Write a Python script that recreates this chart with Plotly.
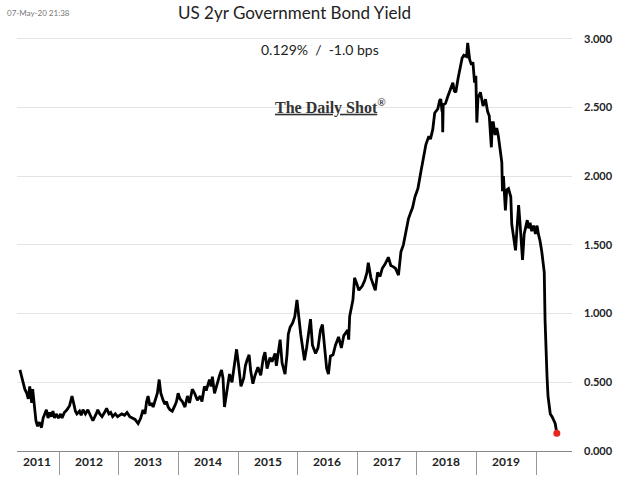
import plotly.graph_objects as go

# readings, per year: (dates, yields)
dates = [
    # 2011
    "2011-05-06", "2011-05-14", "2011-05-24", "2011-06-05", "2011-06-17", "2011-06-26",
    "2011-07-05", "2011-07-11", "2011-07-17", "2011-07-23", "2011-07-29", "2011-08-04",
    "2011-08-12", "2011-08-22", "2011-09-02", "2011-09-15", "2011-09-25", "2011-10-05",
    "2011-10-15", "2011-10-25", "2011-11-04", "2011-11-14", "2011-11-24", "2011-12-04",
    "2011-12-14", "2011-12-28",
    # 2012
    "2012-01-10", "2012-01-19", "2012-02-02", "2012-02-18", "2012-03-05", "2012-03-20",
    "2012-03-30", "2012-04-10", "2012-04-19", "2012-05-05", "2012-05-15", "2012-05-26",
    "2012-06-10", "2012-06-25", "2012-07-10", "2012-07-26", "2012-08-15", "2012-08-25",
    "2012-09-06", "2012-09-20", "2012-10-05", "2012-10-18", "2012-11-01", "2012-11-12",
    "2012-11-24", "2012-12-10", "2012-12-24",
    # 2013
    "2013-01-05", "2013-01-19", "2013-02-05", "2013-02-20", "2013-03-09", "2013-03-25",
    "2013-04-10", "2013-04-29", "2013-05-15", "2013-05-29", "2013-06-10", "2013-06-20",
    "2013-06-29", "2013-07-10", "2013-07-20", "2013-07-30", "2013-08-15", "2013-08-25",
    "2013-09-05", "2013-09-15", "2013-09-29", "2013-10-10", "2013-10-20", "2013-10-30",
    "2013-11-10", "2013-11-24", "2013-12-10", "2013-12-20", "2013-12-30",
    # 2014
    "2014-01-10", "2014-01-25", "2014-02-10", "2014-02-25", "2014-03-10", "2014-03-27",
    "2014-04-10", "2014-04-27", "2014-05-15", "2014-05-25", "2014-06-09", "2014-06-20",
    "2014-07-01", "2014-07-10", "2014-07-20", "2014-07-28", "2014-08-10", "2014-08-25",
    "2014-09-10", "2014-09-22", "2014-10-01", "2014-10-10", "2014-10-20", "2014-11-01",
    "2014-11-10", "2014-11-25", "2014-12-10", "2014-12-23",
    # 2015
    "2015-01-05", "2015-01-19", "2015-02-05", "2015-02-15", "2015-02-25", "2015-03-10",
    "2015-03-20", "2015-04-02", "2015-04-15", "2015-05-03", "2015-05-20", "2015-06-05",
    "2015-06-15", "2015-06-28", "2015-07-16", "2015-07-28", "2015-08-16", "2015-08-24",
    "2015-09-16", "2015-09-28", "2015-10-16", "2015-10-28", "2015-11-05", "2015-11-16",
    "2015-12-01", "2015-12-15", "2015-12-28",
    # 2016
    "2016-01-10", "2016-01-20", "2016-02-06", "2016-02-12", "2016-02-25", "2016-03-10",
    "2016-03-20", "2016-04-01", "2016-04-20", "2016-05-05", "2016-05-20", "2016-06-01",
    "2016-06-15", "2016-06-27", "2016-07-08", "2016-07-20", "2016-08-05", "2016-08-20",
    "2016-09-08", "2016-09-25", "2016-10-10", "2016-10-25", "2016-11-03", "2016-11-09",
    "2016-11-15", "2016-12-05", "2016-12-15", "2016-12-28",
    # 2017
    "2017-01-10", "2017-01-31", "2017-02-15", "2017-03-01", "2017-03-09", "2017-03-25",
    "2017-04-10", "2017-04-21", "2017-05-05", "2017-05-20", "2017-06-03", "2017-06-20",
    "2017-07-10", "2017-07-25", "2017-08-10", "2017-08-22", "2017-09-10", "2017-09-25",
    "2017-10-10", "2017-10-23", "2017-11-10", "2017-11-25", "2017-12-05", "2017-12-20",
    # 2018
    "2018-01-07", "2018-01-25", "2018-02-12", "2018-02-25", "2018-03-15", "2018-03-25",
    "2018-04-08", "2018-04-20", "2018-05-09", "2018-05-20", "2018-05-27", "2018-06-04",
    "2018-06-06", "2018-06-08", "2018-06-11", "2018-06-25", "2018-07-09", "2018-07-20",
    "2018-08-09", "2018-08-18", "2018-08-27", "2018-09-10", "2018-09-27", "2018-10-05",
    "2018-10-15", "2018-11-01", "2018-11-08", "2018-11-20", "2018-12-01", "2018-12-10",
    "2018-12-20", "2018-12-28",
    # 2019
    "2019-01-03", "2019-01-10", "2019-01-25", "2019-02-10", "2019-02-25", "2019-03-10",
    "2019-03-20", "2019-04-02", "2019-04-08", "2019-04-14", "2019-04-25", "2019-05-05",
    "2019-05-15", "2019-05-28", "2019-06-05", "2019-06-09", "2019-06-15", "2019-06-27",
    "2019-07-05", "2019-07-16", "2019-07-30", "2019-08-05", "2019-08-16", "2019-08-28",
    "2019-09-05", "2019-09-16", "2019-09-25", "2019-10-03", "2019-10-10", "2019-10-20",
    "2019-10-29", "2019-11-08", "2019-11-16", "2019-11-25", "2019-12-05", "2019-12-17",
    "2019-12-28",
    # 2020
    "2020-01-07", "2020-01-15", "2020-01-25", "2020-02-05", "2020-02-13", "2020-02-20",
    "2020-02-25", "2020-03-02", "2020-03-08", "2020-03-14", "2020-03-20", "2020-03-28",
    "2020-04-08", "2020-04-18", "2020-04-27", "2020-05-07",
]
yields = [
    # 2011
    0.59, 0.55, 0.52, 0.45, 0.42, 0.38,
    0.47, 0.40, 0.35, 0.45, 0.38, 0.27,
    0.22, 0.18, 0.21, 0.17, 0.24, 0.27,
    0.30, 0.24, 0.28, 0.25, 0.29, 0.24,
    0.27, 0.24,
    # 2012
    0.27, 0.24, 0.28, 0.30, 0.33, 0.40,
    0.34, 0.29, 0.27, 0.29, 0.26, 0.30,
    0.27, 0.30, 0.26, 0.22, 0.27, 0.30,
    0.27, 0.25, 0.28, 0.31, 0.27, 0.28,
    0.25, 0.27, 0.25,
    # 2013
    0.26, 0.27, 0.26, 0.28, 0.25, 0.24,
    0.23, 0.20, 0.24, 0.30, 0.27, 0.36,
    0.40, 0.33, 0.35, 0.32, 0.38, 0.42,
    0.52, 0.42, 0.37, 0.34, 0.36, 0.32,
    0.30, 0.29, 0.33, 0.36, 0.42,
    # 2014
    0.38, 0.36, 0.32, 0.40, 0.35, 0.45,
    0.42, 0.37, 0.40, 0.36, 0.47, 0.44,
    0.48, 0.52, 0.47, 0.54, 0.42, 0.49,
    0.55, 0.59, 0.53, 0.32, 0.40, 0.50,
    0.56, 0.50, 0.63, 0.74,
    # 2015
    0.62, 0.47, 0.53, 0.62, 0.66, 0.70,
    0.58, 0.49, 0.55, 0.61, 0.55, 0.68,
    0.72, 0.60, 0.68, 0.65, 0.71, 0.62,
    0.81, 0.64, 0.56, 0.70, 0.85, 0.90,
    0.93, 0.98, 1.10,
    # 2016
    0.93, 0.85, 0.71, 0.66, 0.75, 0.87,
    0.96, 0.77, 0.71, 0.75, 0.88, 0.92,
    0.72, 0.60, 0.56, 0.69, 0.70, 0.77,
    0.83, 0.75, 0.84, 0.86, 0.88, 0.81,
    0.98, 1.10, 1.26, 1.22,
    # 2017
    1.17, 1.20, 1.24, 1.30, 1.37, 1.26,
    1.21, 1.17, 1.30, 1.27, 1.33, 1.36,
    1.41, 1.35, 1.34, 1.33, 1.28, 1.45,
    1.50, 1.57, 1.69, 1.74, 1.77, 1.85,
    # 2018
    1.91, 2.03, 2.15, 2.23, 2.29, 2.27,
    2.34, 2.46, 2.49, 2.55, 2.56, 2.47,
    2.52, 2.32, 2.52, 2.53, 2.58, 2.62,
    2.68, 2.62, 2.61, 2.71, 2.80, 2.86,
    2.88, 2.87, 2.97, 2.85, 2.81, 2.83,
    2.68, 2.73,
    # 2019
    2.39, 2.57, 2.61, 2.51, 2.56, 2.47,
    2.44, 2.21, 2.39, 2.39, 2.30, 2.35,
    2.29, 2.15, 2.10, 1.89, 2.00, 1.75,
    1.90, 1.91, 1.85, 1.65, 1.57, 1.46,
    1.60, 1.79, 1.65, 1.48, 1.39, 1.58,
    1.62, 1.68, 1.62, 1.66, 1.60, 1.64,
    1.58,
    # 2020
    1.64, 1.58, 1.53, 1.45, 1.36, 1.30,
    0.95, 0.70, 0.54, 0.40, 0.35, 0.27,
    0.25, 0.22, 0.20, 0.129,
]

year_labels = ["2011", "2012", "2013", "2014", "2015", "2016", "2017", "2018", "2019"]
year_label_pos = ["2011-08-20", "2012-07-01", "2013-07-01", "2014-07-01", "2015-07-01",
                  "2016-07-01", "2017-07-01", "2018-07-01", "2019-07-01"]
year_bounds = ["2012-01-01", "2013-01-01", "2014-01-01", "2015-01-01", "2016-01-01",
               "2017-01-01", "2018-01-01", "2019-01-01", "2020-01-01"]
y_ticks = [0, 0.5, 1.0, 1.5, 2.0, 2.5, 3.0]

title_text = "US 2yr Government Bond Yield"
subtitle_text = "0.129%  /  -1.0 bps"
stamp_text = "07-May-20 21:38"
brand_text = "<u>The Daily Shot</u><sup>®</sup>"

FONT = "Lato, 'Open Sans', sans-serif"

# plot area in pixels
PL, PR, PT, PB = 17, 572, 25, 455
PW, PH = PR - PL, PB - PT


def px(x):
    return (x - PL) / PW


def py(y):
    return (PB - y) / PH


fig = go.Figure()
fig.add_trace(go.Scatter(x=dates, y=yields, mode="lines",
                         line=dict(color="black", width=2.8), hoverinfo="skip",
                         showlegend=False))
fig.add_trace(go.Scatter(x=[dates[-1]], y=[yields[-1]], mode="markers",
                         marker=dict(color="#e8281e", size=7), showlegend=False))

fig.update_layout(
    width=630, height=486,
    margin=dict(l=PL, r=630 - PR, t=PT, b=486 - PB),
    paper_bgcolor="white", plot_bgcolor="white",
    font=dict(family=FONT, color="#222"),
    title=dict(text=title_text, x=0.5, xref="paper", xanchor="center",
               y=1 - 13 / 486, yref="container", yanchor="middle",
               font=dict(family=FONT, size=17, color="#222")),
)
fig.update_xaxes(
    type="date", range=["2011-04-18", "2020-08-08"],
    showgrid=False, showline=True, linecolor="#888", linewidth=1,
    tickmode="array", tickvals=year_bounds, showticklabels=False,
    ticks="outside", ticklen=23, tickcolor="#999", tickwidth=1,
    zeroline=False,
)
fig.update_yaxes(
    side="right", range=[0, 3.1],
    tickmode="array", tickvals=y_ticks, tickformat=".3f",
    showgrid=True, gridcolor="#e4e4e4", gridwidth=1,
    ticks="", ticklabelstandoff=11,
    tickfont=dict(family=FONT, size=11, color="#222", weight="bold"),
    zeroline=False, showline=False,
)

for lab, pos in zip(year_labels, year_label_pos):
    fig.add_annotation(x=pos, y=py(466), xref="x", yref="paper", text=lab,
                       showarrow=False, xanchor="center", yanchor="middle",
                       font=dict(family=FONT, size=12, color="#222", weight="bold"))

fig.add_annotation(x=px(320), y=py(50), xref="paper", yref="paper", text=subtitle_text,
                   showarrow=False, xanchor="center", yanchor="middle",
                   font=dict(family=FONT, size=14, color="#222"))

fig.add_annotation(x=px(330), y=py(107), xref="paper", yref="paper",
                   text=brand_text, showarrow=False,
                   xanchor="center", yanchor="middle",
                   font=dict(family="'Liberation Serif', 'DejaVu Serif', serif", size=16,
                             color="#333", weight="bold"))

fig.add_annotation(x=px(5), y=py(13), xref="paper", yref="paper",
                   text=stamp_text, showarrow=False, xanchor="left", yanchor="middle",
                   font=dict(family=FONT, size=8, color="#777"))

fig.write_html("out.html")
